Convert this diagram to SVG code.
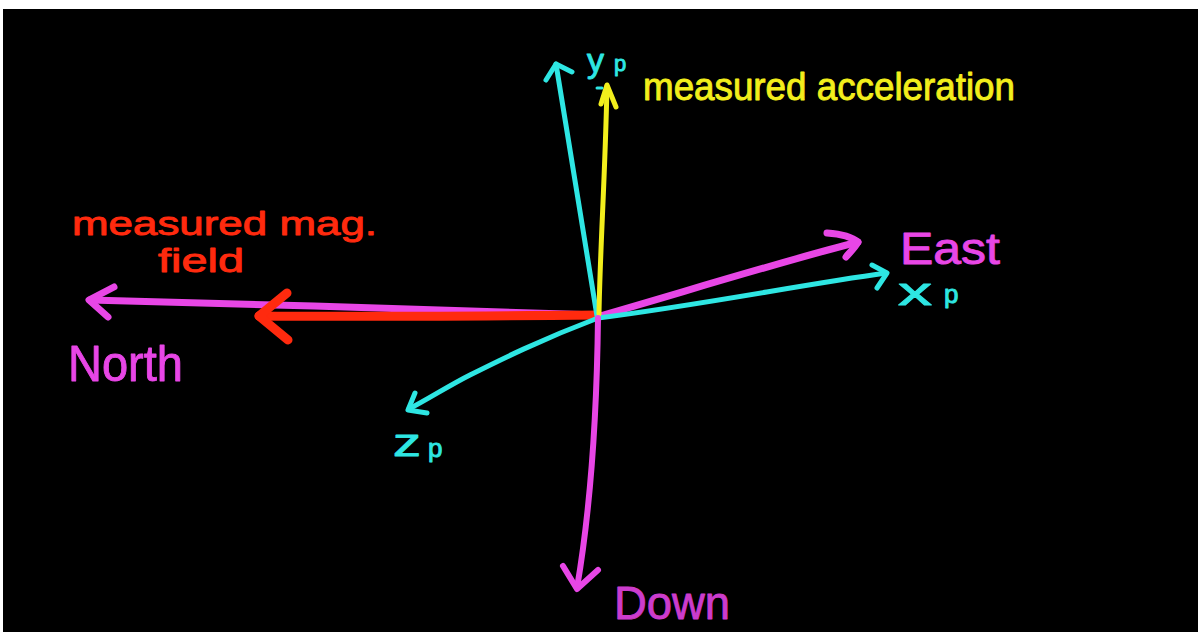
<svg xmlns="http://www.w3.org/2000/svg" width="1198" height="632" viewBox="0 0 1198 632">
<style>
.ln{fill:none;stroke-linecap:round;stroke-linejoin:round}
.cy{stroke:#2ee6e3;stroke-width:5}
.mg{stroke:#e846e6;stroke-width:7}
.rd{stroke:#ff2a0e;stroke-width:9}
.yl{stroke:#f2ee1c;stroke-width:5}
.t{font-family:"Liberation Sans","Open Sans",sans-serif;font-weight:400;stroke-width:0.9;stroke-linejoin:round}
.tc{fill:#2ee6e3;stroke:#2ee6e3}
.tm{fill:#e846e6;stroke:#e846e6}
.tr{fill:#ff2a0e;stroke:#ff2a0e}
.ty{fill:#f2ee1c;stroke:#f2ee1c}
.td{fill:#cc3ccc;stroke:#cc3ccc}
</style>
<rect x="0" y="0" width="1198" height="632" fill="#ffffff"/>
<rect x="3" y="9" width="1195" height="623" fill="#000000"/>
<g id="connectors">
  <g id="north-arrow">
    <path class="ln mg" d="M598,315 C450,310 250,304 90,300"/>
    <path class="ln mg" d="M114,287 L89,300 L108,317"/>
  </g>
  <g id="mag-field-arrow">
    <path class="ln rd" d="M598,315 C480,316 360,317 259,316"/>
    <path class="ln rd" d="M287,293 L259,316 L288,340"/>
  </g>
  <g id="east-arrow">
    <path class="ln mg" d="M600,316 C690,290 780,262 858,242"/>
    <path class="ln mg" d="M827,233 C840,234 852,237 858,242 C855,248 849,253 846,257"/>
  </g>
  <g id="xp-arrow">
    <path class="ln cy" d="M598,318 C700,305 800,285 886,273"/>
    <path class="ln cy" d="M872,265 L887,273 L877,288"/>
  </g>
  <g id="yp-arrow">
    <path class="ln cy" d="M597,316 C585,240 570,150 556,64"/>
    <path class="ln cy" d="M546,80 L556,64 L572,72"/>
  </g>
  <g id="accel-arrow">
    <path class="ln yl" d="M599,314 C600,250 605,180 607,86"/>
    <path class="ln yl" d="M601,104 L607,85 L616,107"/>
  </g>
  <g id="zp-arrow">
    <path class="ln cy" d="M598,318 C540,340 500,360 470,375 C450,385 430,398 409,409"/>
    <path class="ln cy" d="M415,393 L408,410 L427,413"/>
  </g>
  <g id="down-arrow">
    <path class="ln mg" d="M598,318 C597,400 592,500 577,588" style="stroke-width:6"/>
    <path class="ln mg" d="M563,566 L577,589 L598,570" style="stroke-width:6"/>
  </g>
</g>
<g id="label-yp">
  <text class="t tc" x="587" y="72" font-size="34">y</text>
  <text class="t tc" x="614" y="71" font-size="22">p</text>
  <path class="ln cy" d="M597,88 L602,88" style="stroke-width:3"/>
</g>
<g id="label-accel">
  <text class="t ty" x="643" y="100" font-size="38" textLength="372" lengthAdjust="spacingAndGlyphs">measured acceleration</text>
</g>
<g id="label-mag">
  <text class="t tr" x="72" y="235" font-size="34" textLength="305" lengthAdjust="spacingAndGlyphs">measured mag.</text>
  <text class="t tr" x="158" y="272" font-size="34" textLength="86" lengthAdjust="spacingAndGlyphs">field</text>
</g>
<g id="label-north">
  <text class="t tm" x="68" y="381" font-size="50" textLength="115" lengthAdjust="spacingAndGlyphs">North</text>
</g>
<g id="label-east">
  <text class="t tm" x="900" y="264" font-size="44" textLength="100" lengthAdjust="spacingAndGlyphs">East</text>
</g>
<g id="label-xp">
  <text class="t tc" x="898" y="305" font-size="38" textLength="34" lengthAdjust="spacingAndGlyphs">x</text>
  <text class="t tc" x="944" y="303" font-size="26">p</text>
</g>
<g id="label-zp">
  <text class="t tc" x="393" y="456" font-size="38" textLength="28" lengthAdjust="spacingAndGlyphs">z</text>
  <text class="t tc" x="428" y="457" font-size="26">p</text>
</g>
<g id="label-down">
  <text class="t td" x="614" y="619" font-size="46" textLength="116" lengthAdjust="spacingAndGlyphs">Down</text>
</g>
</svg>
